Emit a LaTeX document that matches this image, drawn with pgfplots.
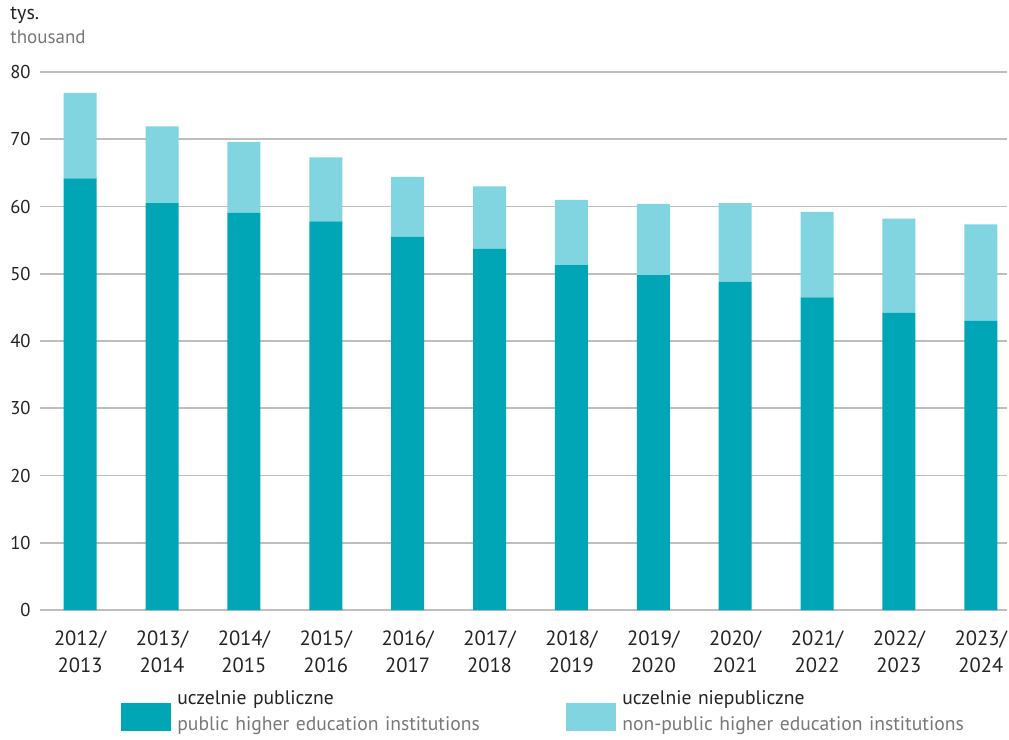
\documentclass[border=0pt]{standalone}
\usepackage{pgfplots}
\pgfplotsset{compat=1.18}
\usepackage{fontspec}
\setmainfont{PT Sans}
\definecolor{pub}{RGB}{0,166,181}
\definecolor{npub}{RGB}{128,213,224}
\definecolor{txt}{RGB}{35,35,35}
\definecolor{sub}{RGB}{120,120,120}
\definecolor{gridc}{RGB}{190,190,190}
\begin{document}
\begin{tikzpicture}
\useasboundingbox (0,0) rectangle (504.5pt,-370pt);
\node[anchor=base west, inner sep=0pt, font=\fontsize{10pt}{12pt}\selectfont, text=txt] at (5pt,-9.5pt) {tys.};
\node[anchor=base west, inner sep=0pt, font=\fontsize{9.5pt}{12pt}\selectfont, text=sub] at (5pt,-21.5pt) {thousand};
\begin{axis}[
  at={(20pt,-305pt)}, anchor=south west,
  scale only axis, width=483.5pt, height=269pt,
  ybar stacked, bar width=16.5pt,
  xmin=-0.49, xmax=11.32, ymin=0, ymax=80,
  ytick={0,10,...,80},
  xtick={0,...,11},
  xticklabels={{2012/\\2013},{2013/\\2014},{2014/\\2015},{2015/\\2016},{2016/\\2017},{2017/\\2018},{2018/\\2019},{2019/\\2020},{2020/\\2021},{2021/\\2022},{2022/\\2023},{2023/\\2024}},
  axis lines=left,
  y axis line style={draw=none},
  x axis line style={draw=gridc, line width=0.8pt, -},
  major tick length=0pt,
  ymajorgrids, grid style={gridc, line width=0.8pt},
  /pgf/number format/assume math mode=true,
  yticklabel style={font=\fontsize{9.3pt}{11pt}\selectfont, text=txt, inner sep=0pt, anchor=east, xshift=-4.5pt},
  xticklabel style={font=\fontsize{10.3pt}{13.5pt}\selectfont, text=txt, align=center, inner sep=0pt, anchor=north, yshift=-10pt},
  legend columns=2,
  legend cell align=left,
  legend style={at={(0.0775,-0.1415)}, anchor=north west, draw=none, fill=none,
    font=\fontsize{9.8pt}{13pt}\selectfont, text=txt,
    /tikz/every odd column/.append style={column sep=3pt},
    /tikz/every even column/.append style={column sep=4.5pt},
    nodes={text width=190pt, align=left, inner sep=0pt}},
  legend image code/.code={\fill[#1] (0pt,-16pt) rectangle (25pt,-2pt);},
]
\addplot[fill=pub, draw=none] coordinates {
(0,64.2) (1,60.5) (2,59.1) (3,57.8) (4,55.5) (5,53.7) (6,51.3) (7,49.8) (8,48.8) (9,46.5) (10,44.2) (11,43.0)};
\addlegendentry{uczelnie publiczne\\{\color{sub}public higher education institutions}}
\addplot[fill=npub, draw=none] coordinates {
(0,12.7) (1,11.4) (2,10.5) (3,9.5) (4,8.9) (5,9.3) (6,9.7) (7,10.6) (8,11.7) (9,12.7) (10,14.0) (11,14.35)};
\addlegendentry{uczelnie niepubliczne\\{\color{sub}non-public higher education institutions}}
\end{axis}
\end{tikzpicture}
\end{document}
